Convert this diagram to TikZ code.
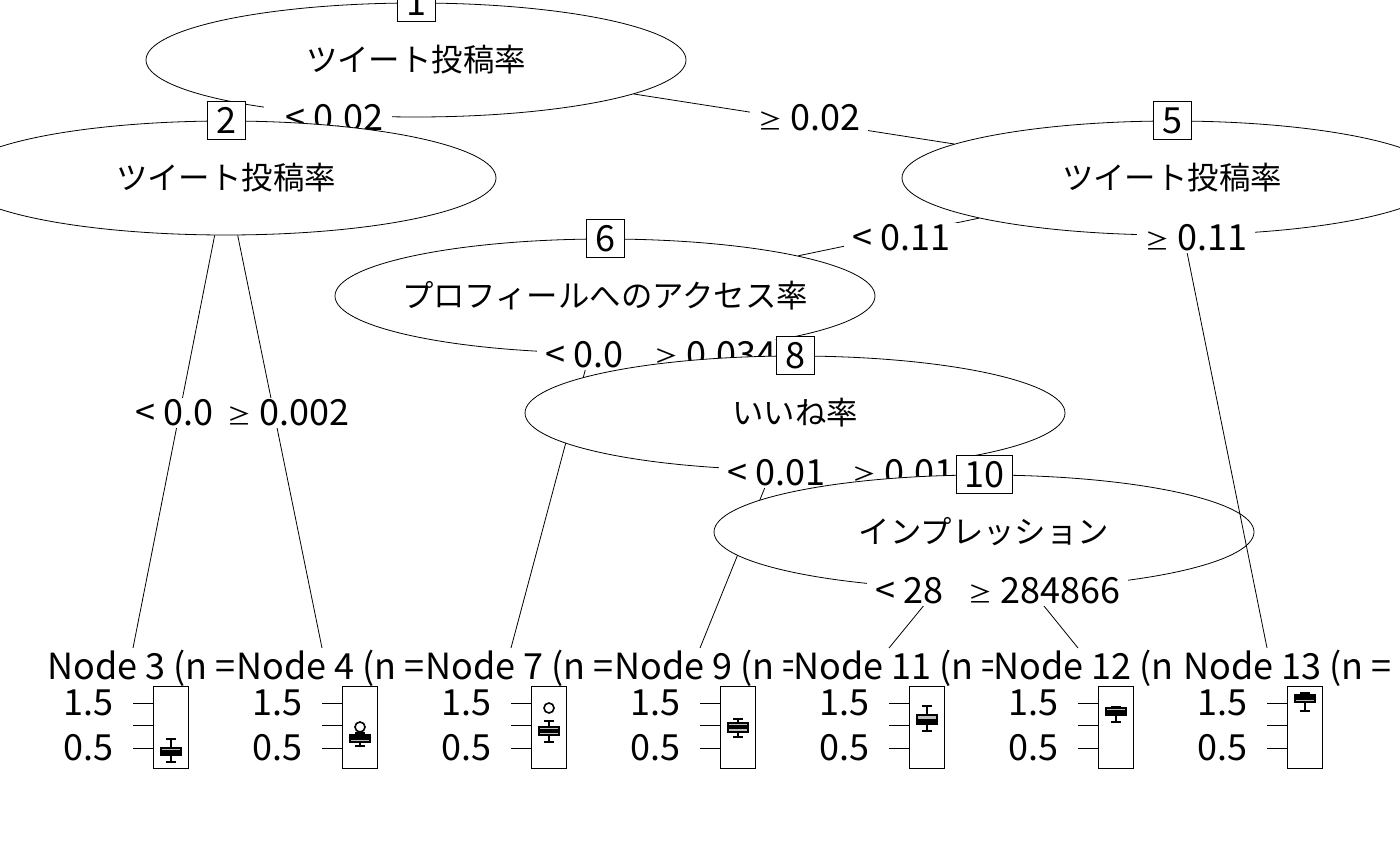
\documentclass[tikz,border=0pt]{standalone}
\usepackage{fontspec}
\setmainfont{Noto Sans CJK JP}
\usetikzlibrary{shapes.geometric}
\usetikzlibrary{backgrounds}
\newcommand{\gsym}{{\fontsize{12}{12}\selectfont ≥}}

\begin{document}
\begin{tikzpicture}
	[x=0.5pt, y=-0.5pt, line width=1.3pt,
	inner/.style={ellipse, draw, fill=white, minimum width=270pt, minimum height=57pt, inner sep=0pt, font=\fontsize{15.7}{16}\selectfont},
	idbox/.style={draw, fill=white, minimum size=19pt, inner xsep=4pt, inner ysep=1pt, font=\fontsize{18}{18}\selectfont},
	elab/.style={fill=white, inner xsep=4pt, inner ysep=1pt, font=\fontsize{18}{18}\selectfont},
	ttl/.style={anchor=west, fill=white, inner sep=0pt, font=\fontsize{18}{18}\selectfont},
	ax/.style={anchor=east, inner sep=0pt, font=\fontsize{18}{18}\selectfont},
	bp/.style={line width=0.8pt, fill=lightgray},
	med/.style={line width=2.4pt}]

	\useasboundingbox (0,0) rectangle (1400,865);
	\begin{pgfonlayer}{background}
		\fill[white] (0,0) rectangle (1400,865);
	\end{pgfonlayer}
	\clip (0,0) rectangle (1400,865);

	%Leaf tops
	\coordinate (l3) at (133,648);
	\coordinate (l4) at (322,648);
	\coordinate (l7) at (511,648);
	\coordinate (l9) at (700,648);
	\coordinate (l11) at (889,648);
	\coordinate (l12) at (1078,648);
	\coordinate (l13) at (1267,648);

	%Inner nodes and split labels
	\node[inner] (n1) at (416,60) {\makebox[0pt]{ツイート投稿率}};
	\node[idbox] (b1) at (n1.north) {1};
	\node[elab, anchor=east] (e1l) at (392,118) {\makebox[56pt][r]{< 0.02}};
	\node[elab] (e1r) at (809,118) {\gsym\ 0.02};

	\node[inner] (n2) at (226,178) {\makebox[0pt]{ツイート投稿率}};
	\node[idbox] (b2) at (n2.north) {2};
	\node[elab, anchor=west] (e2l) at (127,413) {\makebox[42pt][l]{< 0.0}};
	\node[elab] (e2r) at (288,413) {\gsym\ 0.002};

	\node[inner] (n5) at (1172,178) {\makebox[0pt]{ツイート投稿率}};
	\node[idbox] (b5) at (n5.north) {5};
	\node[elab] (e5l) at (901,238) {< 0.11};

	\node[inner] (n6) at (605,296) {\makebox[0pt]{プロフィールへのアクセス率}};
	\node[idbox] (b6) at (n6.north) {6};
	\node[elab, anchor=west] (e6l) at (537,355) {\makebox[56pt][l]{< 0.0}};
	\node[elab] (e6r) at (715,355) {\gsym\ 0.034};

	\node[inner] (n8) at (795,413) {\makebox[0pt]{いいね率}};
	\node[idbox] (b8) at (n8.north) {8};
	\node[elab, anchor=west] (e8l) at (719,473) {\makebox[62pt][l]{< 0.01}};
	\node[elab] (e8r) at (913,473) {\gsym\ 0.015};

	\node[inner] (n10) at (984,532) {\makebox[0pt]{インプレッション}};
	\node[idbox] (b10) at (n10.north) {10};
	\node[elab, anchor=west] (e10l) at (867,591) {\makebox[44pt][l]{< 28}};
	\node[elab] (e10r) at (1044,591) {\gsym\ 284866};

	\draw (n5) -- (l13);
	\node[elab] (e5r) at (1196,238) {\gsym\ 0.11};

	%Edges
	\begin{pgfonlayer}{background}
		\draw (n1) -- (n2);
		\draw (n1) -- (n5);
		\draw (n2) -- (l3);
		\draw (n2) -- (l4);
		\draw (n5) -- (n6);
		\draw (n6) -- (l7);
		\draw (n6) -- (n8);
		\draw (n8) -- (l9);
		\draw (n8) -- (n10);
		\draw (n10) -- (l11);
		\draw (n10) -- (l12);
	\end{pgfonlayer}

	%Leaves
	\foreach \c/\s/\t in {133/47/{Node 3 (n =}, 322/236/{Node 4 (n =}, 511/425/{Node 7 (n =}, 700/614/{Node 9 (n =}, 889/793/{Node 11 (n =}, 1078/993/{Node 12 (n}, 1267/1183/{Node 13 (n = 9}}{
		\node[ttl] (t\c) at (\s,668) {\t};
		\draw (\c+20,686) rectangle (\c+55,768);
		\draw (\c,703) -- (\c+20,703) (\c,725) -- (\c+20,725) (\c,748) -- (\c+20,748);
		\node[ax] (u\c) at (\c-19,703) {1.5};
		\node[ax] (v\c) at (\c-19,748) {0.5};
	}

	%Boxplots
	\foreach \x/\a/\b/\m/\d/\e in {171/739/748/752/755/762, 360/733/735/738/742/746, 549/721/727/731/735/742, 738/719/723/727/732/737, 927/706/715/721/724/731, 1116/707/708/712/715/722, 1305/693/695/698/702/711}{
		\draw[line width=0.8pt] (\x,\a) -- (\x,\e) (\x-5,\a) -- (\x+5,\a) (\x-5,\e) -- (\x+5,\e);
		\draw[bp] (\x-10,\b) rectangle (\x+10,\d);
		\draw[med] (\x-10,\m) -- (\x+10,\m);
	}
	\draw[line width=0.8pt] (360,727) circle[radius=2.5pt];
	\draw[line width=0.8pt] (549,708) circle[radius=2.5pt];
\end{tikzpicture}
\end{document}
